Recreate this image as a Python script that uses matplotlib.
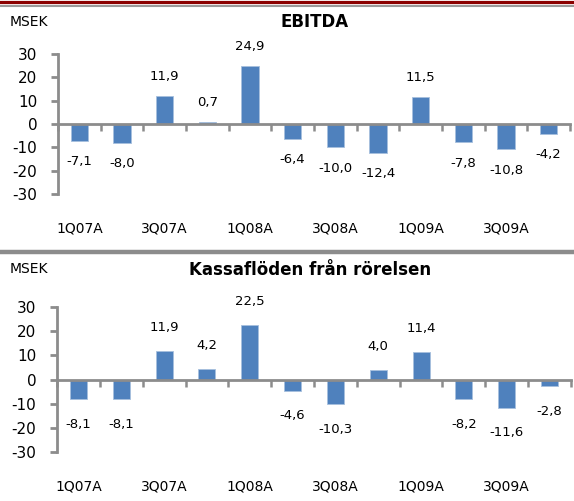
import numpy as np
from matplotlib import pyplot as plt
from matplotlib.lines import Line2D
from matplotlib.transforms import blended_transform_factory

quarters = ["1Q07A", "2Q07A", "3Q07A", "4Q07A", "1Q08A", "2Q08A",
            "3Q08A", "4Q08A", "1Q09A", "2Q09A", "3Q09A", "4Q09A"]
ebitda = [-7.1, -8.0, 11.9, 0.7, 24.9, -6.4, -10.0, -12.4, 11.5, -7.8, -10.8, -4.2]
kassaflode = [-8.1, -8.1, 11.9, 4.2, 22.5, -4.6, -10.3, 4.0, 11.4, -8.2, -11.6, -2.8]

BAR = "#4F81BD"
AXIS = "#8C8C8C"
W, H = 574, 501


def draw_panel(ax, values, msek_y, label_y, pos_off, neg_off):
    x = np.arange(1, len(values) + 1)
    ax.bar(x, values, width=0.4, color=BAR, edgecolor="#A7C0DE", linewidth=0.6, zorder=2)
    ax.set_xlim(0.5, len(values) + 0.5)
    ax.set_ylim(-30, 30)

    for s in ["top", "right"]:
        ax.spines[s].set_visible(False)
    ax.spines["bottom"].set_position(("data", 0))
    for s in ["left", "bottom"]:
        ax.spines[s].set_color(AXIS)
        ax.spines[s].set_linewidth(2)
        ax.spines[s].set_zorder(3)

    ax.set_yticks([-30, -20, -10, 0, 10, 20, 30])
    ax.set_yticklabels(["-30", "-20", "-10", "0", "10", "20", "30"])
    ax.tick_params(axis="y", direction="out", length=5, width=2, color=AXIS,
                   labelsize=11, pad=10)
    ax.set_xticks(np.arange(0.5, len(values) + 1, 1.0))
    ax.tick_params(axis="x", direction="out", length=5, width=1.8, color=AXIS,
                   labelbottom=False)

    # category labels at the bottom of the plot area, every other quarter
    trans = blended_transform_factory(ax.transData, ax.transAxes)
    for i in range(0, len(values), 2):
        ax.text(x[i], label_y, quarters[i], transform=trans, ha="center",
                va="center", fontsize=10)

    # data labels, offset in points
    for xi, v in zip(x, values):
        off = pos_off if v >= 0 else -neg_off
        ax.annotate(f"{v:.1f}".replace(".", ","), (xi, v), xytext=(0, off),
                    textcoords="offset points", ha="center", va="center",
                    fontsize=9.5)

    ax.figure.text(10 / W, 1 - msek_y / H, "MSEK", fontsize=10, va="center", ha="left")


fig = plt.figure(figsize=(W / 100, H / 100), dpi=100)

ax1 = fig.add_axes([58 / W, 1 - 194 / H, (570 - 58) / W, 140 / H])
draw_panel(ax1, ebitda, 22, -0.245, 14, 15)
fig.text(315 / W, 1 - 22 / H, "EBITDA", fontsize=12, fontweight="bold",
         ha="center", va="center")

ax2 = fig.add_axes([57 / W, 1 - 452 / H, (571 - 57) / W, 145 / H])
draw_panel(ax2, kassaflode, 269, -0.235, 17, 18)
fig.text(310 / W, 1 - 270 / H, "Kassaflöden från rörelsen", fontsize=12,
         fontweight="bold", ha="center", va="center")

# decorative lines of the report page
fig.add_artist(Line2D([0, 1], [1 - 1.5 / H, 1 - 1.5 / H], color="#8B0000", lw=2.3))
fig.add_artist(Line2D([0, 1], [1 - 5.5 / H, 1 - 5.5 / H], color="#9A9A9A", lw=1.5))
fig.add_artist(Line2D([0, 1], [1 - 252 / H, 1 - 252 / H], color="#8C8C8C", lw=3.2))

plt.savefig("out.png", dpi=100)
plt.close()
